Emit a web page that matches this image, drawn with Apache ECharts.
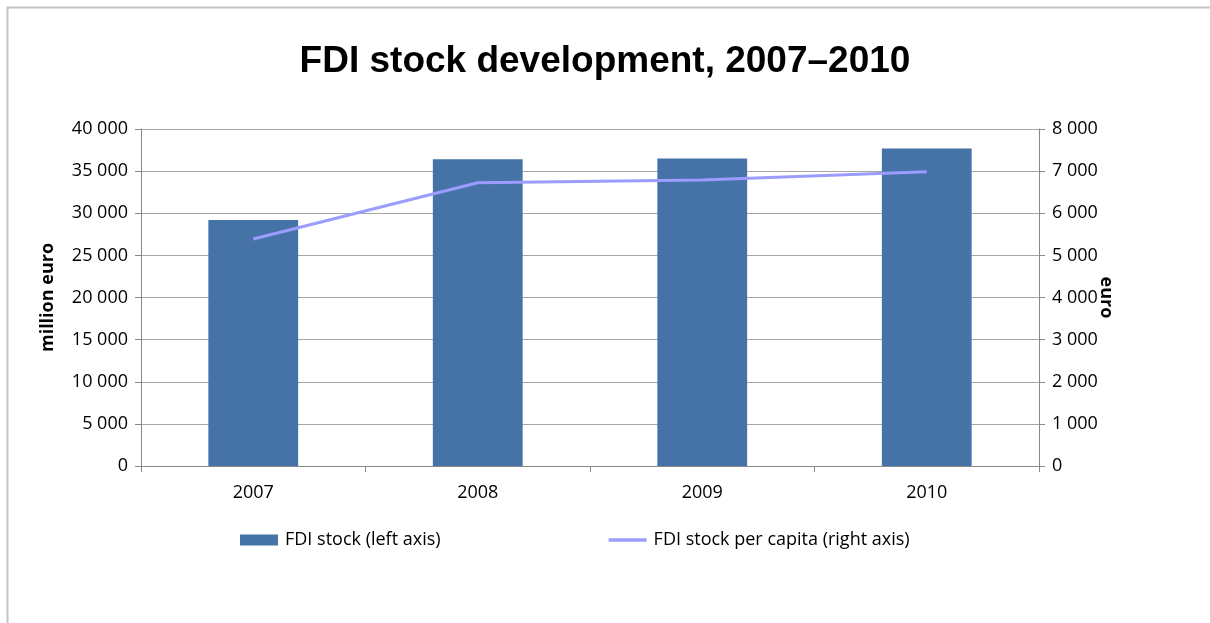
<!DOCTYPE html>
<html>
<head>
<meta charset="utf-8">
<script src="https://cdn.jsdelivr.net/npm/echarts@6/dist/echarts.min.js"></script>
<style>
  html, body { margin: 0; padding: 0; background: #fff; }
  #chart { width: 1210px; height: 623px; }
</style>
</head>
<body>
<div id="chart"></div>
<script>
// FDI stock by year: total (million euro, left axis) and per capita (euro, right axis)
const years = ['2007', '2008', '2009', '2010'];
const fdiStock = [29200, 36400, 36500, 37700];
const fdiPerCapita = [5390, 6725, 6790, 6985];
const leftTicks = { min: 0, max: 40000, interval: 5000 };
const rightTicks = { min: 0, max: 8000, interval: 1000 };

const labelFont = 'Open Sans, Lato, sans-serif';
const labelSize = 18;
const axisGray = '#888888';
const lineColor = '#9c9cff';

// thousands separated by a space: 35 000
function spaced(v) {
  return String(v).replace(/\B(?=(\d{3})+(?!\d))/g, ' ');
}

const chart = echarts.init(document.getElementById('chart'), null, { renderer: 'canvas' });

chart.setOption({
  backgroundColor: '#ffffff',
  animation: false,
  graphic: [{
    type: 'rect',
    shape: { x: 7.5, y: 7.5, width: 1300, height: 700 },
    style: { fill: 'none', stroke: '#c4c4c4', lineWidth: 2 },
    silent: true
  }],
  title: {
    text: 'FDI stock development, 2007\u20132010',
    left: 'center',
    top: 38,
    textStyle: {
      fontFamily: 'Liberation Sans, Arial, sans-serif',
      fontWeight: 'bold',
      fontSize: 37,
      color: '#000'
    }
  },
  grid: { left: 141, right: 171, top: 129, bottom: 157, containLabel: false },
  legend: {
    left: 235,
    top: 526,
    itemWidth: 38,
    itemHeight: 11,
    itemGap: 168,
    textStyle: { fontFamily: labelFont, fontSize: labelSize, color: '#000', padding: [0, 0, 0, 2] },
    data: [
      { name: 'FDI stock (left axis)', icon: 'rect' },
      {
        name: 'FDI stock per capita (right axis)',
        icon: 'path://M0,0 L40,0 L40,3.5 L0,3.5 Z',
        itemStyle: { color: lineColor }
      }
    ]
  },
  xAxis: {
    type: 'category',
    data: years,
    axisLine: { lineStyle: { color: axisGray, width: 1 } },
    axisTick: { show: true, length: 6, lineStyle: { color: axisGray } },
    axisLabel: { margin: 18, fontFamily: labelFont, fontSize: labelSize, color: '#000' }
  },
  yAxis: [
    {
      type: 'value',
      position: 'left',
      min: leftTicks.min, max: leftTicks.max, interval: leftTicks.interval,
      name: 'million euro',
      nameLocation: 'middle',
      nameRotate: 90,
      nameGap: 84,
      nameTextStyle: { fontFamily: labelFont, fontSize: labelSize, fontWeight: 'bold', color: '#000' },
      axisLine: { show: true, lineStyle: { color: axisGray } },
      axisTick: { show: true, inside: false, length: 6, lineStyle: { color: axisGray } },
      axisLabel: { margin: 13, fontFamily: labelFont, fontSize: labelSize, color: '#000', formatter: spaced },
      splitLine: { show: true, lineStyle: { color: '#a6a6a6', width: 1 } }
    },
    {
      type: 'value',
      position: 'right',
      min: rightTicks.min, max: rightTicks.max, interval: rightTicks.interval,
      name: 'euro',
      nameLocation: 'middle',
      nameRotate: -90,
      nameGap: 58,
      nameMoveOverlap: false,
      nameTextStyle: { fontFamily: labelFont, fontSize: labelSize, fontWeight: 'bold', color: '#000' },
      axisLine: { show: true, lineStyle: { color: axisGray } },
      axisTick: { show: true, inside: false, length: 6, lineStyle: { color: axisGray } },
      axisLabel: { margin: 13, fontFamily: labelFont, fontSize: labelSize, color: '#000', formatter: spaced },
      splitLine: { show: false }
    }
  ],
  series: [
    {
      name: 'FDI stock (left axis)',
      type: 'bar',
      yAxisIndex: 0,
      data: fdiStock,
      barWidth: '40%',
      itemStyle: { color: '#4673a7' }
    },
    {
      name: 'FDI stock per capita (right axis)',
      type: 'line',
      yAxisIndex: 1,
      data: fdiPerCapita,
      symbol: 'none',
      lineStyle: { color: lineColor, width: 3 },
      itemStyle: { color: lineColor }
    }
  ]
});
</script>
</body>
</html>
